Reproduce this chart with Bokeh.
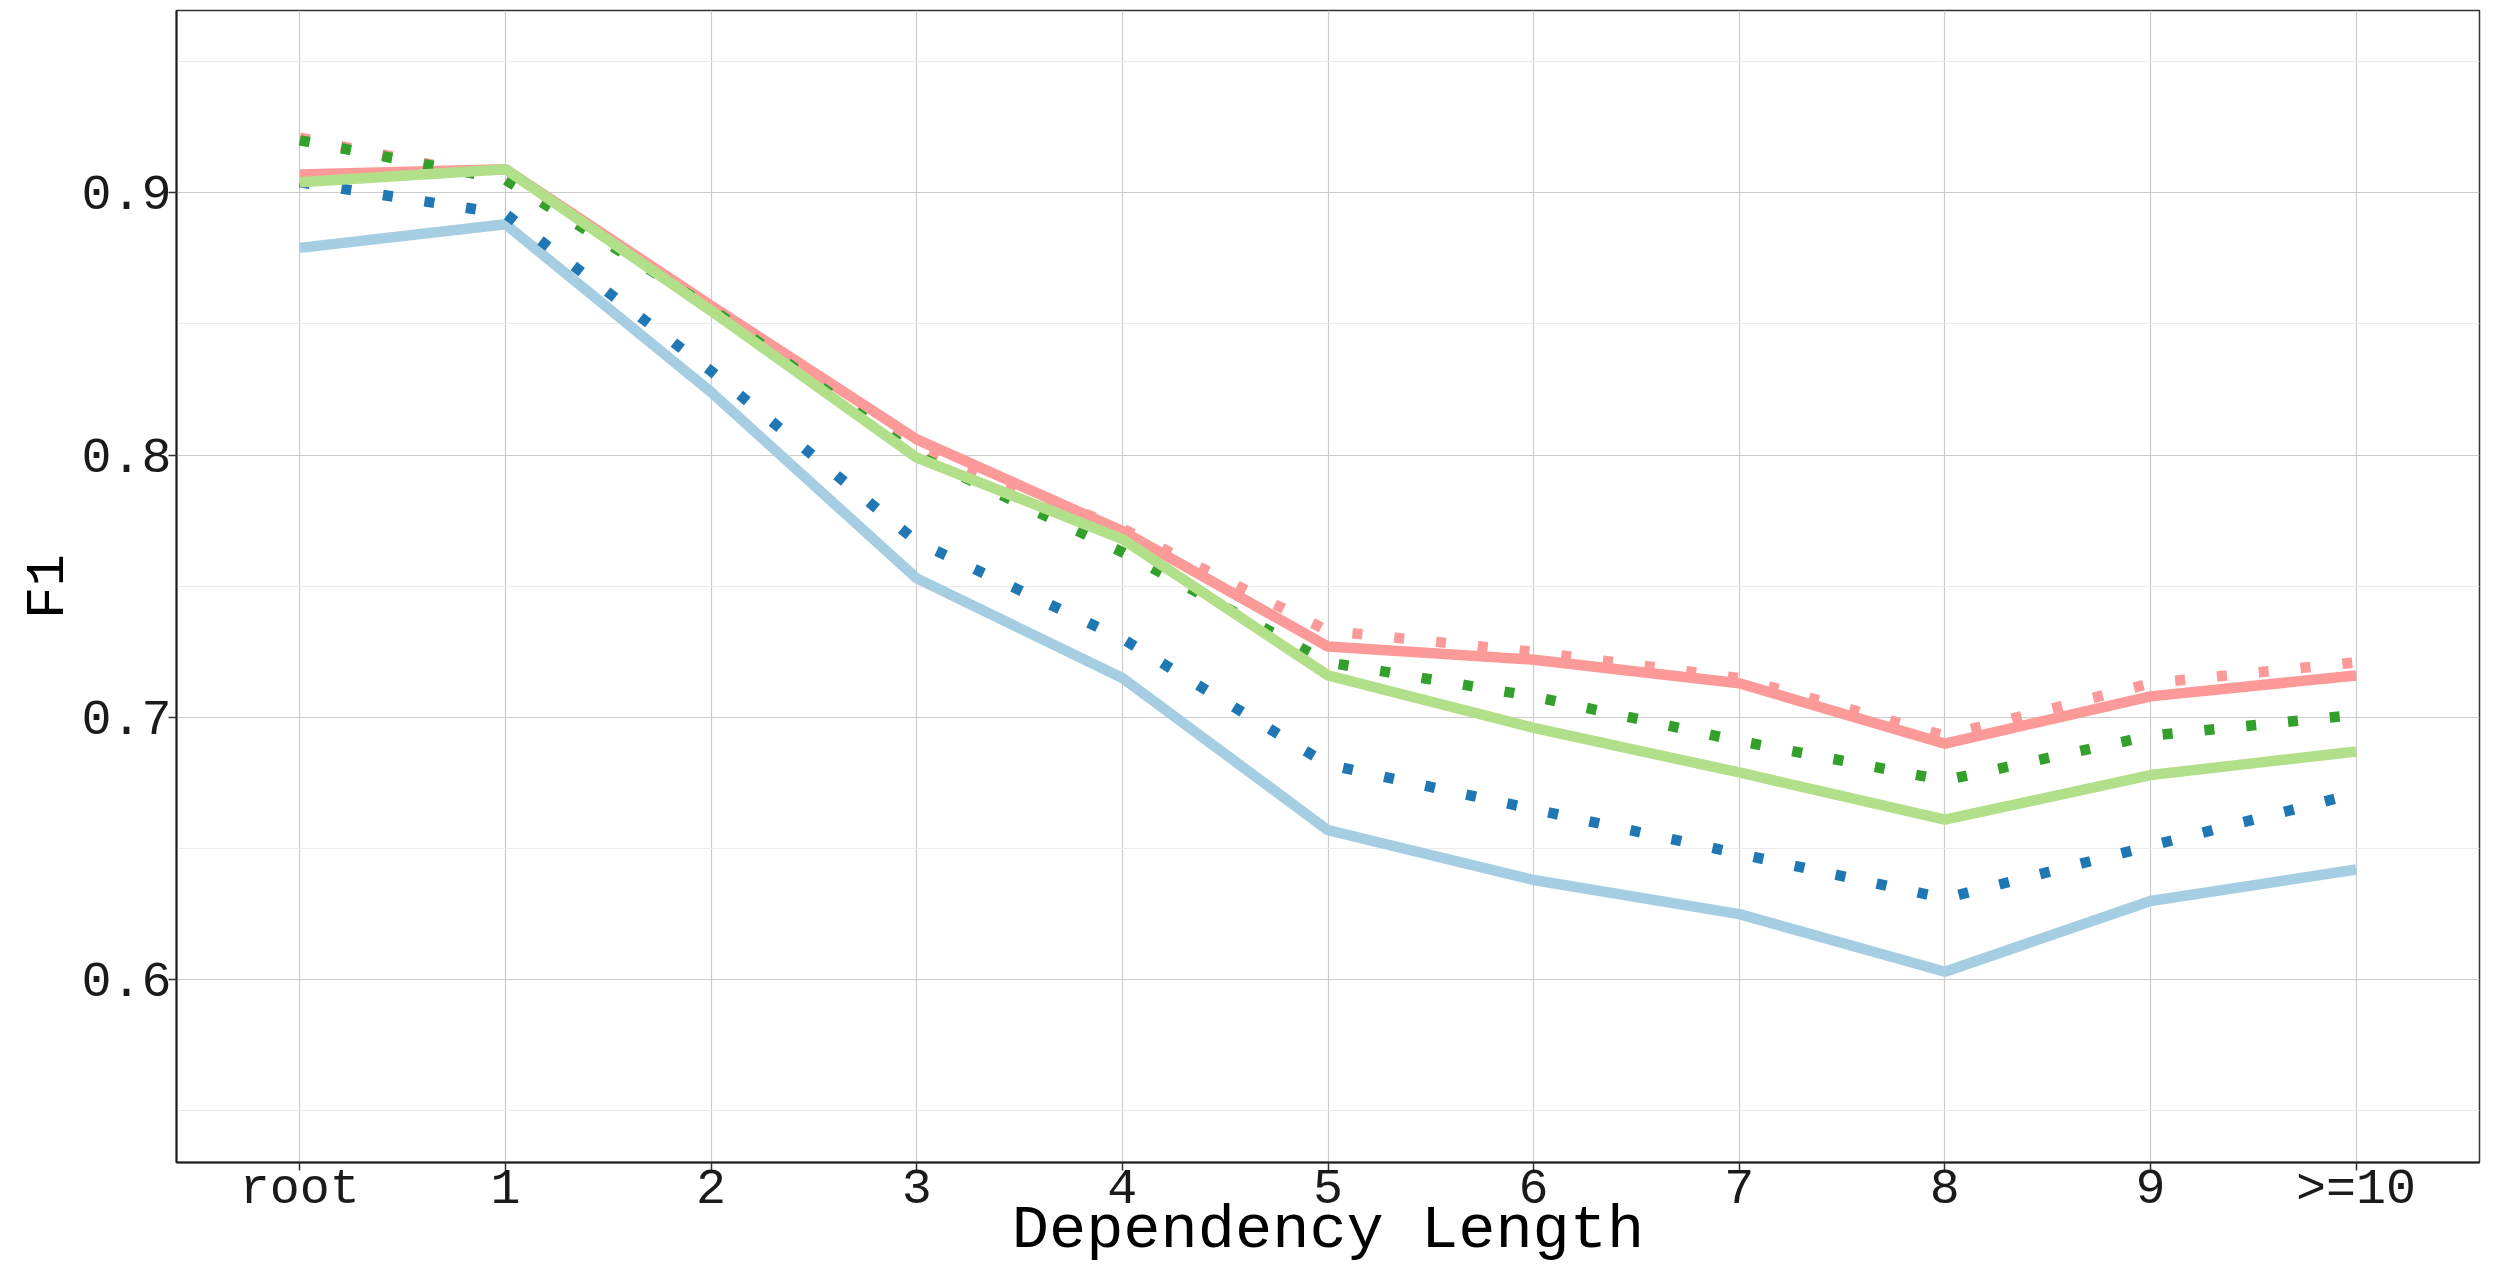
from bokeh.plotting import figure
from bokeh.models import Range1d, FixedTicker
from bokeh.embed import file_html
from bokeh.resources import INLINE

categories = ["root", "1", "2", "3", "4", "5", "6", "7", "8", "9", ">=10"]

blue_solid = [0.879, 0.888, 0.824, 0.753, 0.715, 0.657, 0.638, 0.625, 0.603, 0.630, 0.642]
blue_dotted = [0.904, 0.892, 0.832, 0.767, 0.730, 0.682, 0.665, 0.648, 0.631, 0.651, 0.671]
red_dotted = [0.921, 0.905, 0.857, 0.803, 0.772, 0.733, 0.725, 0.715, 0.693, 0.713, 0.721]
red_solid = [0.907, 0.909, 0.857, 0.806, 0.771, 0.727, 0.722, 0.713, 0.690, 0.708, 0.716]
green_dotted = [0.920, 0.905, 0.856, 0.800, 0.763, 0.721, 0.708, 0.691, 0.676, 0.693, 0.701]
green_solid = [0.904, 0.909, 0.855, 0.799, 0.768, 0.716, 0.696, 0.679, 0.661, 0.678, 0.687]

y_ticks = [0.6, 0.7, 0.8, 0.9]
y_minor = [0.55, 0.65, 0.75, 0.85, 0.95]

x_title = "Dependency Length"
y_title = "F1"

FONT = "Liberation Mono"

p = figure(width=2498, height=1268, output_backend="svg", toolbar_location=None,
           x_range=Range1d(-0.6, 10.6), y_range=Range1d(0.5303, 0.9695),
           min_border_left=176, min_border_top=10, min_border_right=19, min_border_bottom=105)

x = list(range(len(categories)))

series = [
    (blue_solid, "#A6CEE3", "solid"),
    (blue_dotted, "#1F78B4", "dotted"),
    (red_dotted, "#FB9A99", "dotted"),
    (red_solid, "#FB9A99", "solid"),
    (green_dotted, "#33A02C", "dotted"),
    (green_solid, "#B2DF8A", "solid"),
]
for ys, col, style in series:
    if style == "solid":
        p.line(x, ys, line_color=col, line_width=10.5)
    else:
        p.line(x, ys, line_color=col, line_width=10.5, line_dash="10 32", line_cap="butt")

p.background_fill_color = "white"
p.border_fill_color = "white"
p.outline_line_color = "#333333"
p.outline_line_width = 1.5

p.xaxis.ticker = FixedTicker(ticks=x)
p.xaxis.major_label_overrides = {i: c for i, c in enumerate(categories)}
p.yaxis.ticker = FixedTicker(ticks=y_ticks, minor_ticks=y_minor)

p.xgrid.ticker = FixedTicker(ticks=x)
p.ygrid.ticker = FixedTicker(ticks=y_ticks, minor_ticks=y_minor)
for g in (p.xgrid, p.ygrid):
    g.grid_line_color = "#cccccc"
    g.grid_line_width = 1.2
p.ygrid.minor_grid_line_color = "#ebebeb"
p.ygrid.minor_grid_line_width = 1.2

for ax in (p.xaxis, p.yaxis):
    ax.axis_line_color = "#1a1a1a"
    ax.axis_line_width = 2
    ax.major_tick_line_color = "#333333"
    ax.major_tick_line_width = 1.5
    ax.major_tick_out = 8
    ax.major_tick_in = 0
    ax.minor_tick_line_color = None
    ax.major_label_text_font = FONT
    ax.major_label_text_font_size = "50px"
    ax.major_label_text_color = "#1a1a1a"
    ax.axis_label_text_font = FONT
    ax.axis_label_text_font_style = "normal"
    ax.axis_label_text_color = "black"

p.xaxis.major_label_standoff = -10
p.xaxis.axis_label = x_title
p.xaxis.axis_label_text_font_size = "62px"
p.xaxis.axis_label_standoff = -26

p.yaxis.major_label_standoff = -3
p.yaxis.axis_label = y_title
p.yaxis.axis_label_text_font_size = "54px"
p.yaxis.axis_label_standoff = -1

open("out.html", "w").write(file_html(p, INLINE))
